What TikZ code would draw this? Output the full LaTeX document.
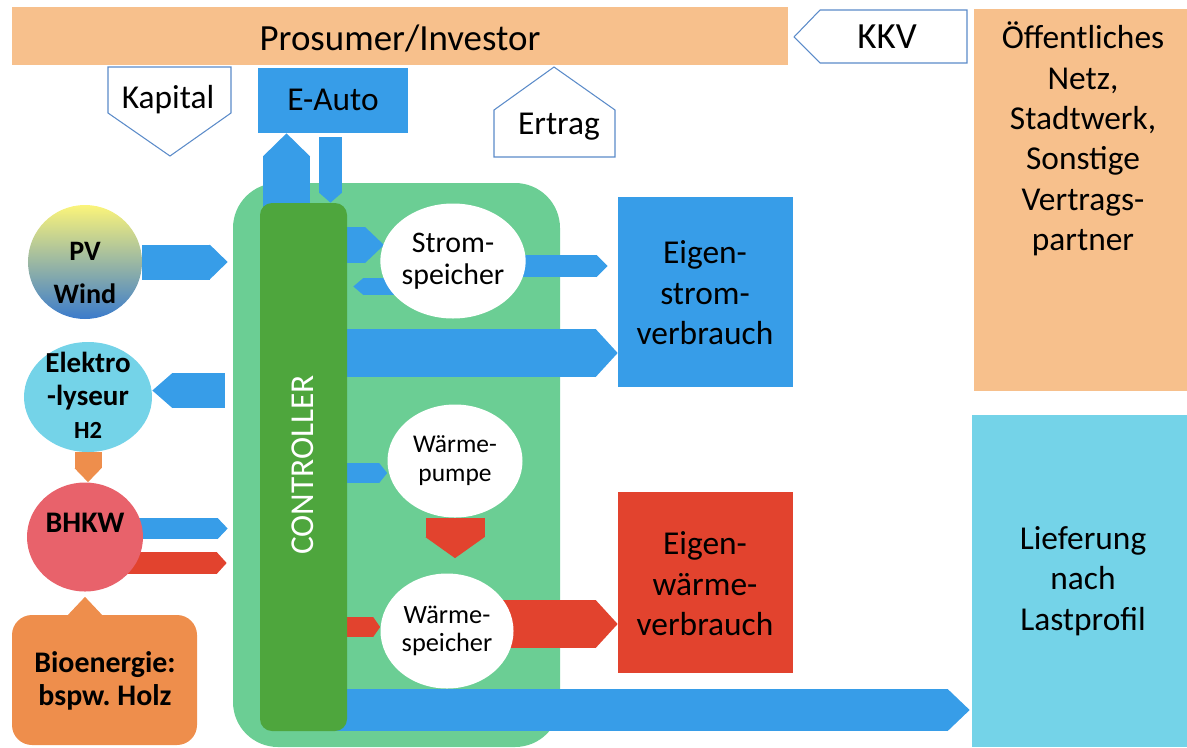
\documentclass[tikz,border=0pt]{standalone}
\usepackage{fontspec}
\setmainfont{Carlito}
\usepackage{tikz}
\usetikzlibrary{arrows.meta, shapes.geometric, fit}

\definecolor{peach}{HTML}{F7C08C}
\definecolor{fblue}{HTML}{379DE8}
\definecolor{fred}{HTML}{E2432E}
\definecolor{areagreen}{HTML}{6BCE94}
\definecolor{ctrlgreen}{HTML}{4EA63D}
\definecolor{elblue}{HTML}{74D3E8}
\definecolor{bioorange}{HTML}{EE8E4C}
\definecolor{bhkwred}{HTML}{E8626B}
\definecolor{pvyel}{HTML}{FBF47A}
\definecolor{pvblu}{HTML}{3B7BCB}
\definecolor{callline}{HTML}{5B8BC9}

\pgfdeclarelayer{bg}
\pgfdeclarelayer{flows}
\pgfsetlayers{bg,flows,main}

\begin{document}
\begin{tikzpicture}[x=0.2mm, y=-0.2mm,
  every node/.style={inner sep=0pt},
  lbl/.style={font=\fontsize{19}{23}\selectfont, align=center},
  box/.style={fill=#1},
  disc/.style={ellipse, fill=#1},
  callout/.style={draw=callline, fill=white, line width=0.6pt},
  flow/.style args={#1/#2/#3}{draw=#1, line width=#2, -{Triangle[line width=0pt, width=#2, length=#3]}}]
\useasboundingbox (0,0) rectangle (1187,747);

%% top row
\node[box=peach, fit={(12,7) (788,65)}] (prosumer) {};
\node[font=\fontsize{21}{25}\selectfont] (prosumertxt) at (400,38) {Prosumer/Investor};
\draw[callout] (794,37) -- (820,10) -- (967,10) -- (967,63) -- (820,63) -- cycle;
\node[font=\fontsize{21}{25}\selectfont] (kkv) at (887,37) {KKV};
\node[box=peach, fit={(974,9) (1187,391)}] (netz) {};
\node[lbl] (netztxt) at (1083,139) {Öffentliches\\Netz,\\Stadtwerk,\\Sonstige\\Vertrags-\\partner};
\draw[callout] (108,67) -- (231,67) -- (231,113) -- (170,156) -- (108,113) -- cycle;
\node[lbl] (kapital) at (168,100) {Kapital};
\node[box=fblue, fit={(258,68) (408,133)}] (eauto) {};
\node[lbl] (eautotxt) at (333,100) {E-Auto};
\draw[callout] (494,157) -- (494,110) -- (554,67) -- (615,110) -- (615,157) -- cycle;
\node[lbl] (ertrag) at (559,127) {Ertrag};

%% controller
\begin{pgfonlayer}{bg}
\node[fill=areagreen, rounded corners=9mm, fit={(233,183) (560,747)}] (area) {};
\end{pgfonlayer}
\node[fill=ctrlgreen, rounded corners=2.4mm, fit={(260,203) (347,731)}] (ctrl) {};
\node[lbl, rotate=90, text=white] (ctrltxt) at (303,465) {CONTROLLER};

%% sources
\node[circle, minimum size=22.8mm, top color=pvyel, bottom color=pvblu] (pv) at (85,262) {};
\node[font=\bfseries\fontsize{16}{25}\selectfont, align=center] (pvtxt) at (85,273) {PV\\Wind};
\node[disc=elblue, minimum width=25.6mm, minimum height=22mm] (elektro) at (88,397) {};
\node[font=\bfseries\fontsize{16.5}{18.7}\selectfont, align=center] (elektrotxt) at (88,395) {Elektro\\-lyseur\\{\fontsize{14}{17}\selectfont H2}};
\node[disc=bhkwred, minimum width=23.2mm, minimum height=21.8mm] (bhkw) at (85,537) {};
\node[font=\bfseries\fontsize{17}{20}\selectfont] (bhkwtxt) at (85,523) {BHKW};
\node[fill=bioorange, rounded corners=4mm, fit={(12,615) (197,745)}] (bio) {};
\node[font=\bfseries\fontsize{17}{18.5}\selectfont, align=center] (biotxt) at (105,681) {Bioenergie:\\bspw.\ Holz};

%% storage and consumers
\node[disc=white, minimum width=28mm, minimum height=23mm, font=\fontsize{17}{18}\selectfont, align=center] (strom) at (453,261) {Strom-\\speicher};
\node[disc=white, minimum width=27mm, minimum height=22.6mm, font=\fontsize{14.5}{16.5}\selectfont, align=center] (pumpe) at (455,461) {Wärme-\\pumpe};
\node[disc=white, minimum width=26.6mm, minimum height=23mm, font=\fontsize{15}{16}\selectfont, align=center] (wspeicher) at (447,631) {Wärme-\\speicher};
\node[box=fblue, fit={(618,197) (793,387)}] (eigstrom) {};
\node[lbl] (eigstromtxt) at (705,293) {Eigen-\\strom-\\verbrauch};
\node[box=fred, fit={(618,492) (793,673)}] (eigwaerme) {};
\node[lbl] (eigwaermetxt) at (705,584) {Eigen-\\wärme-\\verbrauch};
\node[box=elblue, fit={(972,415) (1187,747)}] (liefer) {};
\node[lbl] (liefertxt) at (1083,581) {Lieferung\\nach\\Lastprofil};

%% flows
\begin{pgfonlayer}{flows}
\draw[flow={fblue/7mm/3.6mm}, shorten >=1mm] (pv) -- (area.west |- pv);
\draw[flow={fblue/7mm/4mm}, shorten <=1.6mm] (area.west |- 0,390.5) -- (elektro.east |- 0,390.5);
\draw[flow={fblue/4.2mm/2mm}, shorten >=1mm] (bhkw |- 0,528.5) -- (area.west |- 0,528.5);
\draw[flow={fred/4.4mm/2mm}, shorten >=1.2mm] (bhkw |- 0,563) -- (area.west |- 0,563);
\draw[flow={bioorange/5.4mm/2.8mm}] (elektro) -- (elektro |- bhkw.north);
\draw[flow={bioorange/6.8mm/3.6mm}, shorten >=1mm] (bhkw |- bio) -- (bhkw.south);
\draw[flow={fblue/9.4mm/4.6mm}] (286.5,0 |- ctrl) -- (286.5,0 |- eauto.south);
\draw[flow={fblue/4.6mm/2mm}, shorten <=0.8mm] (330.5,0 |- eauto.south) -- (330.5,0 |- ctrl.north);
\draw[flow={fblue/7.2mm/3.8mm}, shorten >=-0.8mm] (ctrl |- 0,245) -- (strom.west |- 0,245);
\draw[flow={fblue/3.4mm/2mm}, shorten >=1.2mm] (strom |- 0,286.5) -- (ctrl.east |- 0,286.5);
\draw[flow={fblue/4.4mm/2.2mm}, shorten >=2mm] (strom |- 0,266) -- (eigstrom.west |- 0,266);
\draw[flow={fblue/9.6mm/4.4mm}] (ctrl |- 0,353) -- (eigstrom.west |- 0,353);
\draw[flow={fblue/4mm/1.6mm}] (ctrl |- 0,473) -- (pumpe.west |- 0,473);
\draw[flow={fred/11.8mm/4.2mm}, shorten >=3mm] (pumpe) -- (pumpe |- wspeicher.north);
\draw[flow={fred/4mm/1.4mm}] (ctrl |- 0,627) -- (wspeicher.west |- 0,627);
\draw[flow={fred/9.6mm/4.4mm}] (wspeicher |- 0,624) -- (eigwaerme.west |- 0,624);
\draw[flow={fblue/8.4mm/4.4mm}, shorten >=0.4mm] (ctrl |- 0,710) -- (liefer.west |- 0,710);
\end{pgfonlayer}
\end{tikzpicture}
\end{document}
